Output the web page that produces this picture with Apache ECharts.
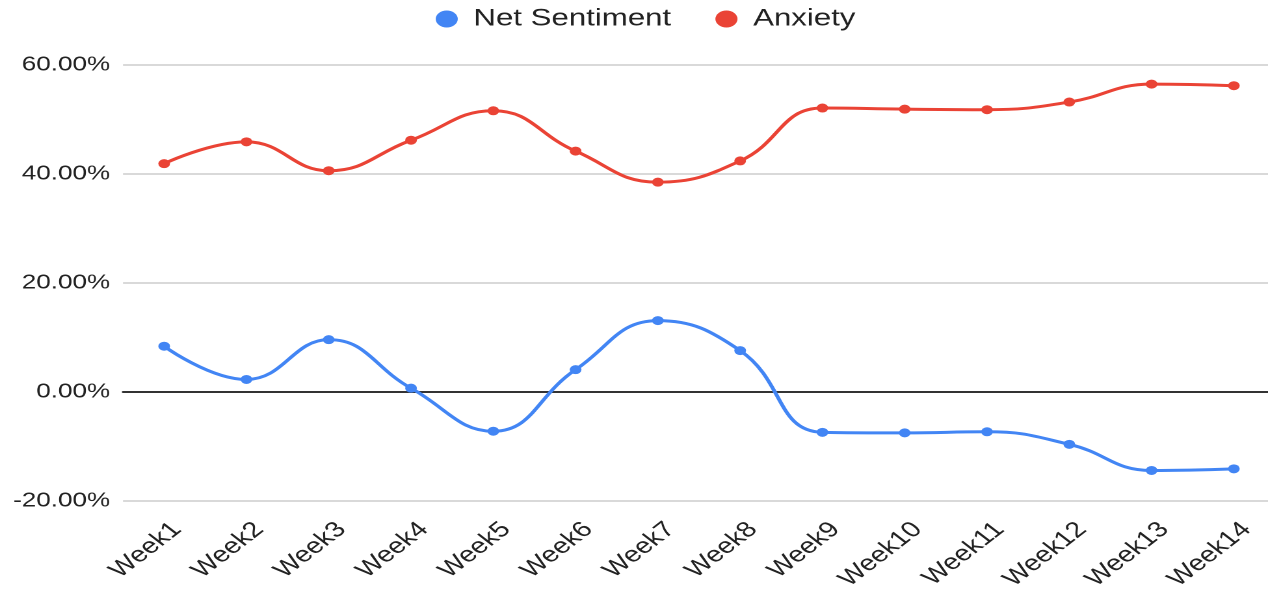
<!DOCTYPE html>
<html>
<head>
<meta charset="utf-8">
<script src="https://cdn.jsdelivr.net/npm/echarts@6/dist/echarts.min.js"></script>
<style>
  html, body { margin: 0; padding: 0; background: #fff; overflow: hidden; }
  #wrap { width: 1268px; height: 591px; overflow: hidden; }
  /* chart is laid out narrower and widened to the page width */
  #chart { width: 975px; height: 591px; transform-origin: 0 0; transform: scaleX(1.3005); }
</style>
</head>
<body>
<div id="wrap"><div id="chart"></div></div>
<script>
// Weekly categories
const weeks = ['Week1', 'Week2', 'Week3', 'Week4', 'Week5', 'Week6', 'Week7',
               'Week8', 'Week9', 'Week10', 'Week11', 'Week12', 'Week13', 'Week14'];

// Percent values per week
const netSentiment = [8.4, 2.3, 9.6, 0.7, -7.2, 4.1, 13.1, 7.6, -7.4, -7.5, -7.3, -9.6, -14.4, -14.1];
const anxiety = [41.9, 45.9, 40.6, 46.2, 51.6, 44.2, 38.5, 42.4, 52.1, 51.9, 51.8, 53.2, 56.5, 56.2];

// Y axis range
const yMin = -20, yMax = 60, yStep = 20;

const FONT = 'Arial, "Liberation Sans", Helvetica, sans-serif';

const chart = echarts.init(document.getElementById('chart'), null, { renderer: 'canvas', devicePixelRatio: 2 });

chart.setOption({
  animation: false,
  color: ['#4285F4', '#EA4335'],
  legend: {
    top: 2,
    left: 330,
    icon: 'circle',
    itemWidth: 17,
    itemHeight: 17,
    itemGap: 34,
    textStyle: { fontFamily: FONT, fontSize: 24, color: '#222', padding: [0, 0, 0, 7] },
    data: ['Net Sentiment', 'Anxiety']
  },
  grid: { left: 94.6, right: -5.4, top: 65, bottom: 90, outerBoundsMode: 'none' },
  xAxis: {
    type: 'category',
    data: weeks,
    boundaryGap: true,
    axisLine: { show: true, onZero: true, lineStyle: { color: '#333', width: 2 } },
    axisTick: { show: false },
    axisLabel: {
      interval: 0,
      rotate: 45,
      margin: 35,
      padding: [0, -14, 0, 0],
      fontFamily: FONT,
      fontSize: 22,
      color: '#222'
    },
    splitLine: { show: false }
  },
  yAxis: {
    type: 'value',
    min: yMin,
    max: yMax,
    interval: yStep,
    axisLine: { show: false },
    axisTick: { show: false },
    axisLabel: {
      margin: 10,
      fontFamily: FONT,
      fontSize: 20,
      color: '#222',
      formatter: v => v.toFixed(2) + '%'
    },
    splitLine: { lineStyle: { color: '#cccccc', width: 1.5 } }
  },
  series: [
    {
      name: 'Net Sentiment',
      type: 'line',
      data: netSentiment,
      smooth: 0.45,
      symbol: 'circle',
      symbolSize: 9,
      lineStyle: { width: 3 },
      z: 3
    },
    {
      name: 'Anxiety',
      type: 'line',
      data: anxiety,
      smooth: 0.45,
      symbol: 'circle',
      symbolSize: 9,
      lineStyle: { width: 3 },
      z: 3
    }
  ]
});
</script>
</body>
</html>
